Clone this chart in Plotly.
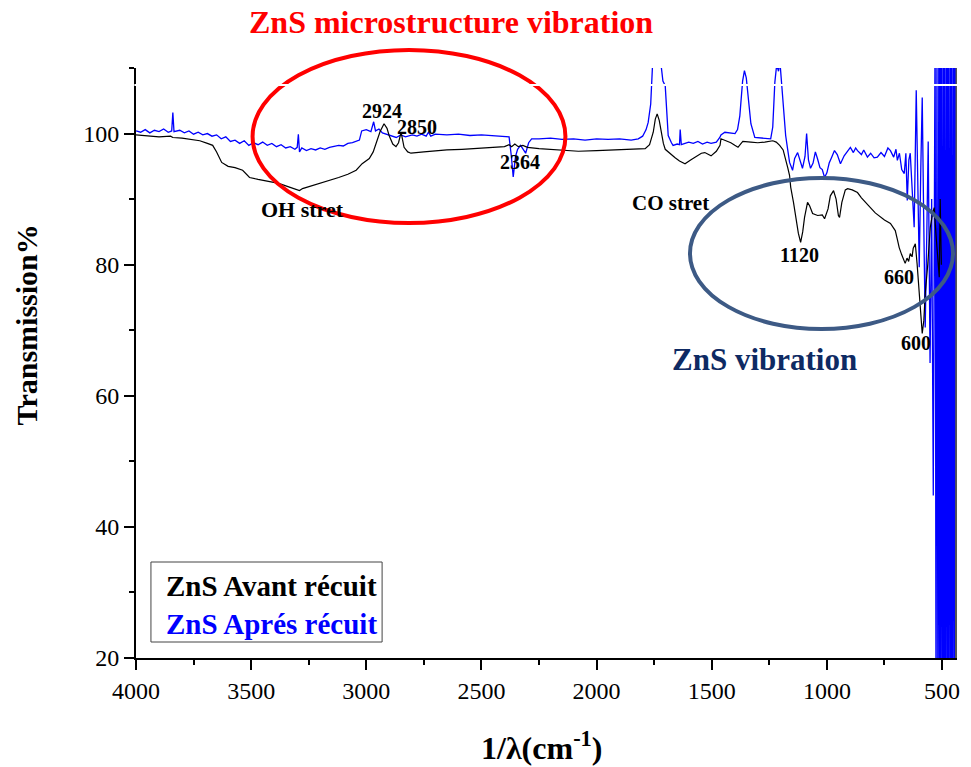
import plotly.graph_objects as go

# ---------------- data ----------------
avant_x = [4000, 3950, 3900, 3850, 3840, 3800, 3760, 3723, 3690, 3667, 3650, 3628, 3600, 3570,
           3537, 3520, 3507, 3470, 3420, 3380, 3340, 3303, 3290, 3277, 3240, 3200, 3160, 3120,
           3080, 3044, 3018, 2987, 2970, 2953, 2940, 2923, 2910, 2901, 2885, 2871, 2860, 2849,
           2842, 2836, 2820, 2806, 2750, 2700, 2650, 2585, 2500, 2450, 2400, 2380, 2369, 2355,
           2340, 2320, 2300, 2250, 2200, 2150, 2079, 2000, 1900, 1850, 1789, 1770, 1754, 1745,
           1737, 1728, 1720, 1710, 1702, 1680, 1659, 1640, 1616, 1590, 1560, 1545, 1530, 1515,
           1503, 1480, 1464, 1460, 1440, 1417, 1400, 1386, 1375, 1365, 1330, 1300, 1270, 1235,
           1220, 1205, 1190, 1179, 1170, 1162, 1157, 1145, 1135, 1124, 1114, 1105, 1097, 1084,
           1075, 1062, 1040, 1020, 1010, 995, 985, 971, 960, 950, 945, 935, 920, 910, 890, 867,
           850, 830, 811, 790, 770, 750, 724, 703, 695, 686, 675, 667, 660, 652, 645, 638, 630,
           625, 616, 608, 599, 592, 586, 579, 573, 562, 551, 540, 534, 525, 518, 512, 508, 503]
avant_y = [99.8, 99.6, 99.5, 99.6, 99.4, 99.3, 99.1, 98.9, 98.5, 98.2, 97.2, 95.6, 95.0, 94.8,
           94.4, 93.8, 93.3, 93.0, 92.7, 92.4, 91.9, 91.5, 91.3, 91.6, 92.0, 92.4, 92.8, 93.3,
           93.8, 94.4, 95.4, 96.2, 97.2, 98.9, 100.3, 101.5, 100.8, 99.7, 98.4, 98.0, 98.6, 100.2,
           99.0, 97.9, 97.2, 97.0, 97.2, 97.4, 97.5, 97.6, 97.8, 97.9, 98.0, 98.3, 98.0, 98.4,
           98.0, 98.2, 97.9, 97.7, 97.6, 97.5, 97.3, 97.4, 97.5, 97.6, 97.7, 98.3, 100.2, 102.2,
           103.0, 102.0, 100.2, 98.5, 97.6, 96.9, 96.3, 95.8, 95.4, 96.0, 96.6, 97.0, 97.1, 96.8,
           96.6, 97.3, 98.2, 99.2, 98.9, 98.6, 98.2, 97.9, 98.4, 98.8, 98.7, 98.6, 98.7, 98.9,
           98.7, 98.2, 97.5, 96.2, 94.8, 93.6, 91.8, 89.5, 87.2, 84.8, 83.4, 85.0, 87.2, 89.5,
           89.0, 87.8, 87.5, 87.6, 87.0, 88.5, 90.5, 91.3, 90.0, 87.5, 87.2, 89.5, 91.4, 91.6,
           91.4, 91.0, 90.2, 89.5, 88.7, 87.9, 87.4, 86.8, 86.3, 85.2, 84.0, 82.6, 81.5, 80.9,
           80.2, 81.0, 80.5, 81.7, 81.2, 82.5, 83.2, 80.0, 75.6, 71.0, 69.5, 71.5, 75.6, 80.0,
           85.7, 88.0, 88.7, 84.0, 80.0, 78.1, 90.0, 80.0]

apres_x = [4000, 3980, 3960, 3940, 3920, 3900, 3880, 3860, 3845, 3840, 3835, 3810, 3790, 3770,
           3750, 3730, 3710, 3690, 3670, 3650, 3630, 3610, 3590, 3570, 3550, 3530, 3510, 3490,
           3470, 3450, 3430, 3410, 3390, 3370, 3350, 3330, 3310, 3300, 3295, 3290, 3280, 3260,
           3240, 3220, 3200, 3180, 3160, 3140, 3120, 3100, 3080, 3060, 3040, 3030, 3020, 3000,
           2980, 2968, 2960, 2945, 2930, 2910, 2890, 2870, 2850, 2830, 2800, 2780, 2760, 2740,
           2730, 2720, 2700, 2650, 2600, 2550, 2500, 2450, 2400, 2380, 2370, 2362, 2352, 2343,
           2330, 2318, 2308, 2295, 2282, 2250, 2200, 2150, 2100, 2050, 2000, 1950, 1900, 1850,
           1819, 1800, 1785, 1776, 1765, 1755, 1740, 1725, 1712, 1702, 1695, 1689, 1675, 1668,
           1650, 1640, 1637, 1632, 1616, 1600, 1580, 1560, 1540, 1520, 1503, 1480, 1465, 1460,
           1443, 1420, 1399, 1388, 1378, 1366, 1358, 1350, 1340, 1330, 1313, 1280, 1244, 1235,
           1226, 1218, 1210, 1204, 1198, 1192, 1185, 1179, 1170, 1162, 1149, 1140, 1127, 1115,
           1106, 1095, 1088, 1080, 1071, 1060, 1050, 1041, 1030, 1020, 1010, 1000, 990, 980,
           967, 955, 941, 925, 910, 898, 885, 875, 867, 850, 840, 824, 810, 795, 781, 765,
           750, 735, 724, 710, 700, 694, 685, 675, 664, 657, 651, 644, 638, 630, 621, 612,
           605, 599, 592, 586, 580, 573, 566, 560, 552, 545, 538, 534,
           530, 526, 522, 518, 514, 511, 508, 505, 502, 498, 495, 492, 489, 486, 482, 479,
           476, 473, 470, 466, 463, 460, 457, 454, 450, 447, 444]
apres_y = [100.4, 100.2, 100.6, 100.1, 100.5, 100.3, 100.7, 100.2, 100.4, 103.2, 100.3, 100.5,
           100.1, 100.4, 99.9, 100.2, 99.8, 100.0, 99.6, 99.8, 99.2, 99.5, 98.8, 99.0, 98.5, 98.9,
           98.2, 98.6, 98.3, 98.7, 98.2, 98.5, 98.0, 98.3, 97.8, 98.0, 97.6, 97.9, 99.9, 97.2,
           97.8, 97.4, 97.7, 97.5, 97.8, 97.6, 97.9, 98.0, 98.2, 98.1, 98.5, 98.6, 98.9, 99.0,
           100.4, 100.6, 100.3, 101.8, 100.4, 100.7, 100.1, 99.9, 99.6, 99.4, 99.8, 99.5, 99.8,
           99.6, 99.9, 99.6, 100.2, 99.6, 99.9, 99.8, 99.9, 99.7, 99.8, 99.7, 99.6, 99.5, 96.5,
           93.4, 96.5, 97.6, 98.2, 97.6, 97.0, 98.6, 99.2, 99.2, 99.3, 99.1, 99.2, 99.0, 99.2,
           99.1, 99.2, 99.0, 99.2, 99.6, 100.6, 101.7, 104.5, 112, 115, 112, 108, 107.3, 102,
           99.7, 98.6, 98.2, 98.4, 98.3, 100.6, 98.3, 98.5, 98.7, 98.5, 98.8, 98.4, 98.7, 98.5,
           98.7, 99.4, 99.8, 100.2, 100.1, 100.0, 100.6, 102.7, 108.0, 109.6, 108.5, 104.5, 101.5,
           99.4, 99.3, 99.2, 101, 107.8, 110.5, 109.5, 111, 108, 105.8, 102, 99.7, 97.5, 95.6,
           94.4, 96.2, 97.1, 95.5, 94.7, 96.5, 100.0, 96.0, 94.7, 95.5, 97.2, 96.2, 94.8, 94.5,
           93.3, 94.0, 95.5, 96.3, 97.4, 96.8, 95.4, 96.6, 97.3, 97.9, 97.1, 97.8, 97.4, 96.8,
           97.5, 96.4, 97.0, 96.3, 96.4, 97.1, 96.5, 97.8, 97.4, 96.4, 97.6, 95.9, 97.0, 94.5,
           93.9, 97.0, 89.8, 96.0, 97.0, 92.0, 85.7, 106.6, 90.0, 79.6, 95.0, 105.5, 88.0, 70.4,
           85.0, 98.8, 65.0, 90.0, 44.8, 92.0,
           118, 5, 118, 5, 118, 5, 118, 5, 118, 5, 118, 5, 118, 5, 118, 5,
           118, 5, 118, 5, 118, 5, 118, 5, 118, 5, 118]

x_range = [4000, 435]
y_range = [20, 110]

# ---------------- layout helpers (pixel -> paper) ----------------
L, R, T, B = 136, 960, 68, 658


def px(xp):
    return (xp - L) / (R - L)


def py(yp):
    return (B - yp) / (B - T)


FONT = "Liberation Serif"

fig = go.Figure()
fig.add_trace(go.Scatter(x=apres_x, y=apres_y, mode="lines", name="ZnS Aprés récuit",
                         line=dict(color="#0000ff", width=1.3), showlegend=False))
fig.add_trace(go.Scatter(x=avant_x, y=avant_y, mode="lines", name="ZnS Avant récuit",
                         line=dict(color="#000000", width=1.2), showlegend=False))

axis_common = dict(showline=True, linecolor="black", linewidth=2, ticks="outside",
                   ticklen=10, tickwidth=2, tickcolor="black", showgrid=False, zeroline=False,
                   tickfont=dict(family=FONT, size=24, color="black"))

fig.update_xaxes(range=x_range, dtick=500, tick0=0,
                 minor=dict(dtick=250, ticklen=5, tickwidth=2, tickcolor="black", ticks="outside"),
                 **axis_common)
fig.update_yaxes(range=y_range, dtick=20, tick0=0,
                 minor=dict(dtick=10, ticklen=5, tickwidth=2, tickcolor="black", ticks="outside"),
                 **axis_common)

shapes = [
    dict(type="circle", xref="paper", yref="paper", x0=px(253), x1=px(567), y0=py(223), y1=py(50),
         line=dict(color="#ff0000", width=4)),
    dict(type="circle", xref="paper", yref="paper", x0=px(692), x1=px(956), y0=py(329), y1=py(178),
         line=dict(color="#3d5a85", width=4)),
    dict(type="rect", xref="paper", yref="paper", x0=px(151), x1=px(383), y0=py(642), y1=py(562),
         line=dict(color="#444444", width=1), fillcolor="white", layer="above"),
    dict(type="line", xref="paper", yref="paper", x0=px(959), x1=px(959), y0=0, y1=1,
         line=dict(color="#555555", width=2), layer="below"),
    dict(type="line", xref="paper", yref="paper", x0=-0.002, x1=1.0, y0=py(85), y1=py(85),
         line=dict(color="white", width=2), layer="above"),
]


def ann(text, xp, yp, size, color="black", bold=True, **kw):
    t = f"<b>{text}</b>" if bold else text
    d = dict(text=t, x=px(xp), y=py(yp), xref="paper", yref="paper", showarrow=False,
             xanchor="center", yanchor="middle",
             font=dict(family=FONT, size=size, color=color))
    d.update(kw)
    return d


annotations = [
    ann("ZnS microstructure vibration", 452, 22, 32, "#ff0000"),
    ann("2924", 383, 111, 20),
    ann("2850", 418, 127, 20),
    ann("2364", 521, 162, 20),
    ann("OH stret", 303, 209, 22),
    ann("CO stret", 672, 203, 21),
    ann("1120", 802, 255, 20),
    ann("660", 902, 277, 20),
    ann("600", 919, 343, 20),
    ann("ZnS vibration", 767, 359, 31, "#0e2a63"),
    ann("ZnS Avant récuit", 164, 586, 29, "black", xanchor="left"),
    ann("ZnS Aprés récuit", 164, 624, 29, "#0000ff", xanchor="left"),
    ann("1/λ(cm<sup>-1</sup>)", 543, 746, 32),
    ann("Transmission%", 26, 325, 30, textangle=-90),
]

fig.update_layout(
    width=971, height=767,
    margin=dict(l=L, r=971 - R, t=T, b=767 - B),
    paper_bgcolor="white", plot_bgcolor="white",
    shapes=shapes, annotations=annotations,
    showlegend=False,
    font=dict(family=FONT, color="black"),
)

fig.write_html("out.html")
